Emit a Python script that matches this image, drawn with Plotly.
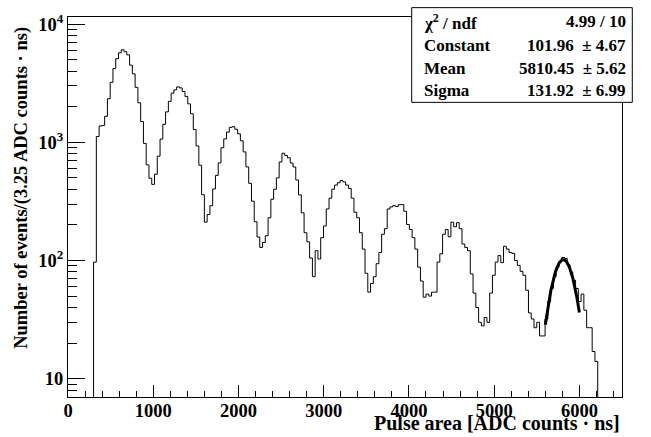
import numpy as np
import plotly.graph_objects as go

# ---------------- data ----------------
bin_start = 300.0      # left edge of first filled bin [ADC counts*ns]
bin_width = 32.5       # bin width
counts = [
    97, 1120, 1376, 1390, 1660, 2340, 3220, 4220, 5100, 5730,
    6070, 5850, 5500, 4500, 3800, 2920, 2160, 1500, 980, 645,
    497, 441, 537, 764, 1065, 1420, 1811, 2223, 2608, 2780,
    2946, 2890, 2694, 2447, 2115, 1745, 1284, 932, 640, 360,
    211, 245, 291, 403, 525, 670, 900, 1070, 1220, 1340,
    1355, 1290, 1180, 1030, 830, 620, 450, 318, 213, 158,
    129, 142, 162, 230, 330, 401, 500, 681, 809, 774,
    740, 668, 619, 480, 359, 253, 172, 144, 105, 73,
    121, 103, 156, 196, 273, 337, 401, 435, 455, 475,
    463, 435, 408, 337, 256, 230, 172, 125, 78, 54,
    64, 73, 94, 117, 167, 186, 273, 284, 291, 287,
    297, 297, 261, 202, 183, 156, 125, 88, 67, 49,
    52, 50, 54, 54, 97, 114, 167, 183, 159, 211,
    193, 209, 186, 138, 129, 121, 77, 53, 40, 30,
    28, 33, 30, 53, 75, 97, 110, 96, 132, 125,
    117, 115, 100, 91, 81, 75, 56, 36, 32, 27,
    30, 23, 23, 32, 45, 58, 73, 88, 98, 106,
    104, 92, 80, 68, 58, 45, 52, 38, 27, 27,
    17, 14,
]

# Gaussian fit result (from the stats box)
fit_constant = 101.96
fit_mean = 5810.45
fit_sigma = 131.92
fit_xmin, fit_xmax = 5600.0, 6000.0

stats_labels = ["χ<sup>2</sup> / ndf", "Constant", "Mean", "Sigma"]
stats_values = ["4.99 / 10", "101.96 \u00a0± 4.67", "5810.45 \u00a0± 5.62", "131.92 \u00a0± 6.99"]

x_tickvals = [0, 1000, 2000, 3000, 4000, 5000, 6000]
y_tickvals = [10, 100, 1000, 10000]
y_ticktext = ["10", "10<sup>2</sup>", "10<sup>3</sup>", "10<sup>4</sup>"]

x_title = "Pulse area [ADC counts · ns]"
y_title = "Number of events/(3.25 ADC counts · ns)"

# ---------------- build figure ----------------
FONT = "Liberation Serif"
edges = bin_start + bin_width * np.arange(len(counts) + 1)
hx = [edges[0]] + list(edges[:-1]) + [edges[-1], edges[-1]]
hy = [0.1] + list(counts) + [counts[-1], 0.1]

fx = np.linspace(fit_xmin, fit_xmax, 120)
fy = fit_constant * np.exp(-0.5 * ((fx - fit_mean) / fit_sigma) ** 2)

fig = go.Figure()
fig.add_trace(go.Scatter(x=hx, y=hy, mode="lines", line=dict(color="black", width=1, shape="hv"),
                         hoverinfo="skip", showlegend=False))
fig.add_trace(go.Scatter(x=fx, y=fy, mode="lines", line=dict(color="black", width=3),
                         hoverinfo="skip", showlegend=False))

minor_y = [8, 9] + [m * 10 for m in range(2, 10)] + [m * 100 for m in range(2, 10)] + [m * 1000 for m in range(2, 10)]

fig.update_layout(
    width=651, height=437,
    margin=dict(l=68, r=29, t=11, b=40),
    paper_bgcolor="white", plot_bgcolor="white",
    xaxis=dict(range=[0, 6500], showline=True, linecolor="black", linewidth=1, mirror=True,
               ticks="inside", ticklen=12, tickcolor="black", tickwidth=1,
               tickmode="array", tickvals=x_tickvals, ticklabelstandoff=-3,
               minor=dict(dtick=200, tick0=0, ticks="inside", ticklen=6, tickcolor="black", showgrid=False),
               showgrid=False, zeroline=False,
               tickfont=dict(family=FONT, size=18.5, color="black", weight="bold")),
    yaxis=dict(type="log", range=[np.log10(7), np.log10(11500)], showline=True, linecolor="black",
               linewidth=1, mirror=True, ticks="inside", ticklen=17, tickcolor="black", tickwidth=1,
               tickmode="array", tickvals=y_tickvals, ticktext=y_ticktext,
               minor=dict(tickmode="array", tickvals=minor_y, ticks="inside", ticklen=9,
                          tickcolor="black", showgrid=False),
               showgrid=False, zeroline=False,
               tickfont=dict(family=FONT, size=18.5, color="black", weight="bold")),
)

def px_to_paper_x(p):
    return (p - 68) / 554.0

def px_to_paper_y(p):
    return (397 - p) / 386.0

ann = []
ann.append(dict(text="<b>" + x_title + "</b>", xref="paper", yref="paper",
                x=px_to_paper_x(622), y=px_to_paper_y(423.5), xanchor="right", yanchor="middle",
                showarrow=False, font=dict(family=FONT, size=20, color="black")))
ann.append(dict(text="<b>" + y_title + "</b>", xref="paper", yref="paper",
                x=px_to_paper_x(22), y=px_to_paper_y(184.5), xanchor="center", yanchor="middle",
                textangle=-90, showarrow=False, font=dict(family=FONT, size=18.5, color="black")))

# stats box
fig.add_shape(type="rect", xref="paper", yref="paper",
              x0=px_to_paper_x(411.7), x1=px_to_paper_x(632.3),
              y0=px_to_paper_y(97.7), y1=px_to_paper_y(1.5),
              line=dict(color="black", width=1), fillcolor="white", layer="above")
row_y = [16, 40, 63.5, 86]
for lab, val, ry in zip(stats_labels, stats_values, row_y):
    ann.append(dict(text="<b>" + lab + "</b>", xref="paper", yref="paper",
                    x=px_to_paper_x(421.7), y=px_to_paper_y(ry), xanchor="left", yanchor="middle",
                    showarrow=False, font=dict(family=FONT, size=17, color="black")))
    ann.append(dict(text="<b>" + val + "</b>", xref="paper", yref="paper",
                    x=px_to_paper_x(628), y=px_to_paper_y(ry), xanchor="right", yanchor="middle",
                    showarrow=False, font=dict(family=FONT, size=17, color="black")))
fig.update_layout(annotations=ann)

fig.write_html("out.html")
